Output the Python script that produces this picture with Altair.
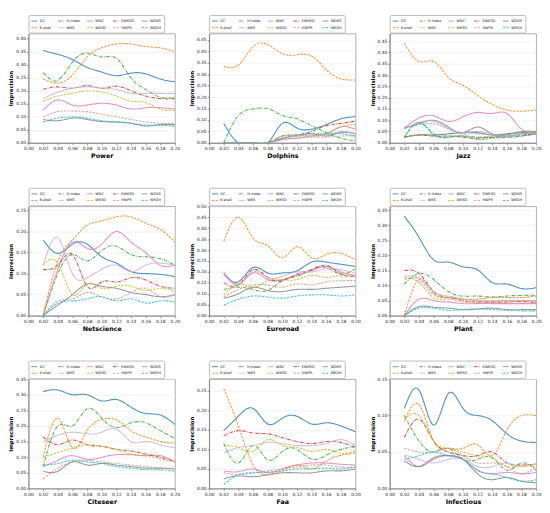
import altair as alt
import pandas as pd

X = [0.02, 0.04, 0.06, 0.08, 0.10, 0.12, 0.14, 0.16, 0.18, 0.20]
X_TICKS = [0.00, 0.02, 0.04, 0.06, 0.08, 0.10, 0.12, 0.14, 0.16, 0.18, 0.20]

# legend order follows matplotlib column-major layout (5 columns x 2 rows)
LEGEND_ORDER = ["DC", "H-index", "WNC", "EWKSD", "WDKS",
                "K-shell", "WKS", "WKSD", "HWPR", "WKDH"]
COLORS = {"DC": "#1f77b4", "K-shell": "#ff7f0e", "H-index": "#2ca02c", "WKS": "#c5b0d5",
          "WNC": "#e377c2", "WKSD": "#bcbd22", "EWKSD": "#d62728", "HWPR": "#c49c94",
          "WDKS": "#7f7f7f", "WKDH": "#17becf"}
DASH = {"DC": [1, 0], "K-shell": [2.5, 1.2], "H-index": [3.5, 1.2, 0.8, 1.2], "WKS": [1, 0],
        "WNC": [1, 0], "WKSD": [2.5, 1.2], "EWKSD": [3.5, 1.2, 0.8, 1.2], "HWPR": [2.5, 1.2],
        "WDKS": [1, 0], "WKDH": [2.5, 1.2]}

POWER = {
    "DC":      [0.355, 0.340, 0.320, 0.290, 0.272, 0.258, 0.268, 0.265, 0.245, 0.235],
    "K-shell": [0.245, 0.230, 0.260, 0.330, 0.365, 0.380, 0.380, 0.370, 0.365, 0.350],
    "H-index": [0.270, 0.240, 0.310, 0.345, 0.330, 0.325, 0.250, 0.205, 0.175, 0.175],
    "WKS":     [0.170, 0.195, 0.210, 0.215, 0.210, 0.205, 0.190, 0.190, 0.190, 0.190],
    "WNC":     [0.125, 0.165, 0.145, 0.145, 0.152, 0.145, 0.130, 0.135, 0.135, 0.130],
    "WKSD":    [0.160, 0.180, 0.190, 0.200, 0.195, 0.180, 0.160, 0.155, 0.130, 0.125],
    "EWKSD":   [0.205, 0.215, 0.210, 0.220, 0.210, 0.218, 0.200, 0.180, 0.170, 0.170],
    "HWPR":    [0.100, 0.120, 0.122, 0.120, 0.110, 0.100, 0.090, 0.080, 0.075, 0.075],
    "WDKS":    [0.090, 0.085, 0.095, 0.090, 0.082, 0.080, 0.075, 0.065, 0.070, 0.070],
    "WKDH":    [0.080, 0.095, 0.100, 0.095, 0.085, 0.080, 0.075, 0.068, 0.068, 0.063],
}
DOLPHINS = {
    "DC":      [0.085, 0.000, 0.000, 0.000, 0.085, 0.065, 0.060, 0.080, 0.105, 0.115],
    "K-shell": [0.335, 0.340, 0.420, 0.430, 0.390, 0.385, 0.380, 0.320, 0.280, 0.275],
    "H-index": [0.000, 0.120, 0.148, 0.150, 0.120, 0.105, 0.075, 0.045, 0.020, 0.010],
    "WKS":     [0.000, 0.000, 0.000, 0.000, 0.020, 0.030, 0.030, 0.035, 0.050, 0.040],
    "WNC":     [0.000, 0.000, 0.000, 0.000, 0.015, 0.020, 0.030, 0.040, 0.070, 0.060],
    "WKSD":    [0.000, 0.000, 0.000, 0.000, 0.030, 0.030, 0.035, 0.040, 0.070, 0.080],
    "EWKSD":   [0.000, 0.000, 0.000, 0.000, 0.030, 0.035, 0.050, 0.075, 0.085, 0.095],
    "HWPR":    [0.000, 0.000, 0.000, 0.000, 0.015, 0.020, 0.025, 0.025, 0.030, 0.030],
    "WDKS":    [0.000, 0.000, 0.000, 0.000, 0.020, 0.030, 0.040, 0.030, 0.045, 0.040],
    "WKDH":    [0.000, 0.000, 0.000, 0.000, 0.020, 0.035, 0.040, 0.040, 0.040, 0.030],
}
JAZZ = {
    "DC":      [0.025, 0.035, 0.035, 0.040, 0.045, 0.045, 0.035, 0.040, 0.045, 0.045],
    "K-shell": [0.440, 0.360, 0.360, 0.290, 0.255, 0.210, 0.170, 0.145, 0.140, 0.145],
    "H-index": [0.025, 0.090, 0.040, 0.025, 0.030, 0.025, 0.025, 0.030, 0.035, 0.040],
    "WKS":     [0.060, 0.090, 0.095, 0.065, 0.045, 0.050, 0.040, 0.030, 0.040, 0.045],
    "WNC":     [0.065, 0.110, 0.120, 0.095, 0.115, 0.135, 0.130, 0.130, 0.060, 0.050],
    "WKSD":    [0.025, 0.035, 0.030, 0.030, 0.030, 0.025, 0.030, 0.030, 0.040, 0.040],
    "EWKSD":   [0.025, 0.035, 0.030, 0.030, 0.025, 0.020, 0.025, 0.025, 0.030, 0.040],
    "HWPR":    [0.070, 0.080, 0.085, 0.060, 0.040, 0.040, 0.035, 0.030, 0.040, 0.040],
    "WDKS":    [0.065, 0.085, 0.100, 0.070, 0.045, 0.070, 0.040, 0.035, 0.050, 0.050],
    "WKDH":    [0.025, 0.090, 0.035, 0.025, 0.030, 0.015, 0.020, 0.025, 0.030, 0.040],
}
NETSCIENCE = {
    "DC":      [0.180, 0.148, 0.170, 0.170, 0.140, 0.125, 0.105, 0.100, 0.098, 0.093],
    "K-shell": [0.000, 0.130, 0.180, 0.215, 0.225, 0.235, 0.235, 0.220, 0.205, 0.175],
    "H-index": [0.000, 0.100, 0.145, 0.130, 0.155, 0.165, 0.145, 0.140, 0.135, 0.120],
    "WKS":     [0.120, 0.185, 0.100, 0.090, 0.110, 0.120, 0.105, 0.120, 0.125, 0.120],
    "WNC":     [0.000, 0.110, 0.175, 0.160, 0.170, 0.200, 0.175, 0.150, 0.120, 0.120],
    "WKSD":    [0.120, 0.125, 0.050, 0.075, 0.065, 0.070, 0.070, 0.060, 0.065, 0.058],
    "EWKSD":   [0.110, 0.120, 0.145, 0.070, 0.080, 0.080, 0.090, 0.085, 0.070, 0.065],
    "HWPR":    [0.000, 0.035, 0.040, 0.055, 0.045, 0.040, 0.055, 0.065, 0.045, 0.050],
    "WDKS":    [0.000, 0.025, 0.050, 0.075, 0.070, 0.065, 0.055, 0.050, 0.045, 0.050],
    "WKDH":    [0.000, 0.030, 0.035, 0.040, 0.045, 0.035, 0.040, 0.030, 0.035, 0.032],
}
EUROROAD = {
    "DC":      [0.190, 0.155, 0.220, 0.195, 0.195, 0.205, 0.245, 0.245, 0.235, 0.225],
    "K-shell": [0.340, 0.450, 0.355, 0.320, 0.265, 0.315, 0.265, 0.280, 0.285, 0.255],
    "H-index": [0.120, 0.130, 0.120, 0.115, 0.160, 0.180, 0.210, 0.220, 0.190, 0.215],
    "WKS":     [0.190, 0.140, 0.200, 0.175, 0.180, 0.200, 0.200, 0.215, 0.210, 0.195],
    "WNC":     [0.200, 0.145, 0.195, 0.165, 0.165, 0.185, 0.205, 0.225, 0.200, 0.185],
    "WKSD":    [0.095, 0.145, 0.130, 0.160, 0.165, 0.165, 0.185, 0.175, 0.185, 0.180],
    "EWKSD":   [0.150, 0.140, 0.210, 0.175, 0.160, 0.190, 0.210, 0.230, 0.190, 0.180],
    "HWPR":    [0.085, 0.120, 0.140, 0.140, 0.130, 0.145, 0.140, 0.155, 0.160, 0.160],
    "WDKS":    [0.080, 0.100, 0.130, 0.115, 0.110, 0.120, 0.120, 0.125, 0.130, 0.135],
    "WKDH":    [0.048, 0.075, 0.090, 0.085, 0.080, 0.090, 0.095, 0.095, 0.090, 0.095],
}
PLANT = {
    "DC":      [0.330, 0.260, 0.185, 0.178, 0.162, 0.152, 0.110, 0.105, 0.090, 0.093],
    "K-shell": [0.000, 0.120, 0.075, 0.060, 0.055, 0.055, 0.060, 0.060, 0.060, 0.065],
    "H-index": [0.105, 0.140, 0.120, 0.080, 0.065, 0.065, 0.062, 0.065, 0.067, 0.068],
    "WKS":     [0.130, 0.125, 0.080, 0.065, 0.055, 0.050, 0.050, 0.050, 0.050, 0.050],
    "WNC":     [0.000, 0.055, 0.050, 0.045, 0.040, 0.040, 0.040, 0.040, 0.040, 0.040],
    "WKSD":    [0.125, 0.110, 0.060, 0.055, 0.045, 0.045, 0.045, 0.045, 0.050, 0.045],
    "EWKSD":   [0.150, 0.140, 0.080, 0.060, 0.050, 0.045, 0.045, 0.045, 0.047, 0.043],
    "HWPR":    [0.120, 0.120, 0.070, 0.060, 0.055, 0.050, 0.045, 0.050, 0.045, 0.050],
    "WDKS":    [0.000, 0.030, 0.028, 0.025, 0.020, 0.022, 0.025, 0.020, 0.020, 0.020],
    "WKDH":    [0.000, 0.025, 0.025, 0.018, 0.020, 0.022, 0.020, 0.018, 0.016, 0.016],
}
CITESEER = {
    "DC":      [0.310, 0.315, 0.300, 0.300, 0.280, 0.285, 0.260, 0.240, 0.235, 0.205],
    "K-shell": [0.100, 0.225, 0.130, 0.185, 0.220, 0.220, 0.185, 0.165, 0.150, 0.145],
    "H-index": [0.070, 0.200, 0.200, 0.255, 0.225, 0.195, 0.210, 0.210, 0.185, 0.160],
    "WKS":     [0.150, 0.170, 0.180, 0.175, 0.180, 0.190, 0.150, 0.150, 0.140, 0.130],
    "WNC":     [0.070, 0.090, 0.105, 0.093, 0.100, 0.108, 0.108, 0.105, 0.105, 0.085],
    "WKSD":    [0.100, 0.115, 0.130, 0.140, 0.135, 0.125, 0.110, 0.105, 0.095, 0.085],
    "EWKSD":   [0.165, 0.140, 0.155, 0.140, 0.135, 0.125, 0.120, 0.110, 0.100, 0.085],
    "HWPR":    [0.030, 0.065, 0.085, 0.090, 0.085, 0.080, 0.075, 0.070, 0.065, 0.065],
    "WDKS":    [0.055, 0.055, 0.085, 0.075, 0.080, 0.075, 0.070, 0.065, 0.065, 0.062],
    "WKDH":    [0.075, 0.080, 0.090, 0.085, 0.080, 0.070, 0.065, 0.060, 0.060, 0.055],
}
FAA = {
    "DC":      [0.148, 0.185, 0.205, 0.165, 0.180, 0.185, 0.165, 0.168, 0.160, 0.145],
    "K-shell": [0.255, 0.160, 0.060, 0.035, 0.045, 0.060, 0.050, 0.070, 0.085, 0.095],
    "H-index": [0.115, 0.065, 0.110, 0.073, 0.095, 0.100, 0.075, 0.085, 0.100, 0.107],
    "WKS":     [0.090, 0.105, 0.110, 0.118, 0.115, 0.110, 0.110, 0.115, 0.125, 0.110],
    "WNC":     [0.045, 0.043, 0.050, 0.040, 0.050, 0.060, 0.065, 0.065, 0.062, 0.060],
    "WKSD":    [0.110, 0.105, 0.095, 0.125, 0.110, 0.105, 0.095, 0.100, 0.090, 0.090],
    "EWKSD":   [0.135, 0.148, 0.142, 0.140, 0.130, 0.120, 0.115, 0.120, 0.118, 0.105],
    "HWPR":    [0.040, 0.035, 0.040, 0.045, 0.050, 0.055, 0.060, 0.060, 0.055, 0.055],
    "WDKS":    [0.025, 0.032, 0.030, 0.035, 0.040, 0.040, 0.040, 0.045, 0.045, 0.050],
    "WKDH":    [0.010, 0.035, 0.040, 0.042, 0.045, 0.050, 0.050, 0.052, 0.050, 0.055],
}
INFECTIOUS = {
    "DC":      [0.110, 0.135, 0.087, 0.130, 0.110, 0.100, 0.093, 0.075, 0.065, 0.063],
    "K-shell": [0.092, 0.115, 0.065, 0.055, 0.055, 0.060, 0.045, 0.080, 0.100, 0.100],
    "H-index": [0.100, 0.065, 0.050, 0.055, 0.040, 0.040, 0.042, 0.025, 0.035, 0.025],
    "WKS":     [0.046, 0.040, 0.035, 0.040, 0.040, 0.030, 0.030, 0.035, 0.030, 0.035],
    "WNC":     [0.045, 0.030, 0.040, 0.045, 0.040, 0.025, 0.020, 0.022, 0.020, 0.022],
    "WKSD":    [0.095, 0.100, 0.065, 0.055, 0.050, 0.045, 0.042, 0.030, 0.032, 0.030],
    "EWKSD":   [0.070, 0.095, 0.065, 0.050, 0.045, 0.045, 0.050, 0.035, 0.032, 0.033],
    "HWPR":    [0.055, 0.050, 0.050, 0.055, 0.045, 0.035, 0.035, 0.030, 0.020, 0.030],
    "WDKS":    [0.038, 0.030, 0.042, 0.045, 0.040, 0.020, 0.012, 0.015, 0.010, 0.008],
    "WKDH":    [0.040, 0.045, 0.050, 0.045, 0.040, 0.025, 0.020, 0.015, 0.010, 0.012],
}

PANELS = [("Power", POWER, 0.42), ("Dolphins", DOLPHINS, 0.478), ("Jazz", JAZZ, 0.484),
          ("Netscience", NETSCIENCE, 0.26), ("Euroroad", EUROROAD, 0.50), ("Plant", PLANT, 0.363),
          ("Citeseer", CITESEER, 0.35), ("Faa", FAA, 0.28), ("Infectious", INFECTIOUS, 0.15)]

FONT = "DejaVu Sans"
W, H = 150, 112


def panel(name, data, ymax):
    rows = []
    for s in LEGEND_ORDER:
        for x, v in zip(X, data[s]):
            rows.append({"x": x, "v": v, "s": s})
    df = pd.DataFrame(rows)
    n = int(round(ymax / 0.05 + 1e-9))
    yt = [round(i * 0.05, 2) for i in range(n + 1) if i * 0.05 <= ymax + 1e-9]
    return alt.Chart(df).mark_line(
        interpolate="natural", strokeWidth=1.1, opacity=0.8, clip=True
    ).encode(
        x=alt.X("x:Q", scale=alt.Scale(domain=[0, 0.2], nice=False, zero=False),
                axis=alt.Axis(values=X_TICKS, format=".2f", title=name, grid=False,
                              labelOverlap=False, labelFlush=False)),
        y=alt.Y("v:Q", scale=alt.Scale(domain=[0, ymax], nice=False),
                axis=alt.Axis(values=yt, format=".2f", title="Imprecision", grid=True,
                              labelOverlap=False)),
        color=alt.Color("s:N", scale=alt.Scale(domain=LEGEND_ORDER,
                                               range=[COLORS[s] for s in LEGEND_ORDER]),
                        legend=alt.Legend(title=None)),
        strokeDash=alt.StrokeDash("s:N", scale=alt.Scale(domain=LEGEND_ORDER,
                                                         range=[DASH[s] for s in LEGEND_ORDER]),
                                  legend=alt.Legend(title=None)),
        detail="s:N",
    ).properties(width=W, height=H)


charts = [panel(n, d, m) for n, d, m in PANELS]

chart = alt.concat(*charts, columns=3, spacing={"row": 27, "column": 8}).resolve_scale(
    color="independent", strokeDash="independent", x="independent", y="independent"
).resolve_legend(color="independent", strokeDash="independent").configure_view(
    stroke="#999999", strokeWidth=0.8
).configure_axis(
    labelFont=FONT, labelFontSize=4.5, labelColor="#222222", labelPadding=1,
    tickSize=2, tickColor="#555555", tickWidth=0.6,
    domainColor="#777777", domainWidth=0.8,
    gridColor="#ececec", gridWidth=0.6,
    titleFont=FONT, titleColor="#000000"
).configure_axisX(
    titleFontSize=6.5, titleFontWeight="bold", titlePadding=3
).configure_axisY(
    titleFontSize=5.5, titleFontWeight="bold", titlePadding=2
).configure_legend(
    orient="top", columns=5, symbolType="stroke", symbolSize=36, symbolStrokeWidth=1.0,
    labelFont=FONT, labelFontSize=3.6, labelColor="#222222", labelOffset=2,
    columnPadding=4.5, rowPadding=1, padding=2.5, offset=1,
    strokeColor="#bbbbbb", fillColor="#ffffff", cornerRadius=1.5, symbolOpacity=0.85
).properties(background="#ffffff", padding=0)

chart.save("out.html", embed_options={"renderer": "svg", "actions": False})
